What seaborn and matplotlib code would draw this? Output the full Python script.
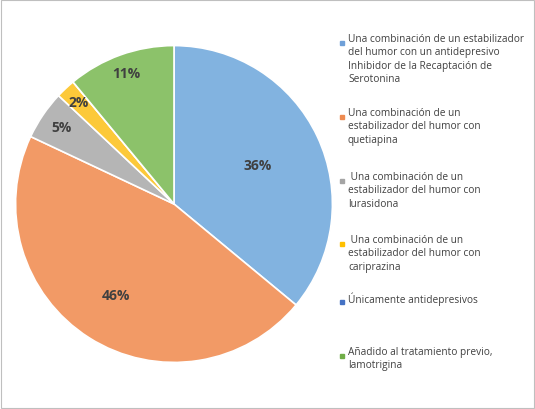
import matplotlib
matplotlib.use("Agg")
import matplotlib.pyplot as plt
import seaborn as sns
import numpy as np
from matplotlib.patches import Rectangle

sns.set_style("white")
plt.rcParams['font.family'] = ['Open Sans', 'DejaVu Sans']

labels = [
    "Una combinación de un estabilizador\ndel humor con un antidepresivo\nInhibidor de la Recaptación de\nSerotonina",
    "Una combinación de un\nestabilizador del humor con\nquetiapina",
    " Una combinación de un\nestabilizador del humor con\nlurasidona",
    " Una combinación de un\nestabilizador del humor con\ncariprazina",
    "Únicamente antidepresivos",
    "Añadido al tratamiento previo,\nlamotrigina",
]
values = [36, 46, 5, 2, 0, 11]
pct_text = ["36%", "46%", "5%", "2%", "", "11%"]
colors = ["#82b3e0", "#f29a66", "#b5b5b5", "#fcc93a", "#4a7ec4", "#8cc26a"]
marker_colors = ["#6fa0d8", "#ee8a50", "#a5a5a5", "#ffc000", "#4472c4", "#70ad47"]

fig = plt.figure(figsize=(5.35, 4.1), dpi=100)
fig.patches.append(Rectangle((0.002, 0.002), 0.996, 0.996, transform=fig.transFigure,
                             fill=False, edgecolor="#bfbfbf", linewidth=0.8))
ax = fig.add_axes([14 / 535, 1 - 365 / 410, 320 / 535, 320 / 410])
wedges, _ = ax.pie(values, colors=colors, startangle=90, counterclock=False,
                   wedgeprops=dict(edgecolor="white", linewidth=1.2))
ax.set_xlim(-1.01, 1.01)
ax.set_ylim(-1.01, 1.01)
ax.set_aspect("equal")

# percentage labels
total = sum(values)
ang = 90.0
radii = [0.58, 0.68, 0.86, 0.88, 0.8, 0.88]
for v, t, r in zip(values, pct_text, radii):
    mid = ang - v / total * 180
    ang -= v / total * 360
    if t:
        ax.text(r * np.cos(np.radians(mid)), r * np.sin(np.radians(mid)), t,
                ha="center", va="center", fontsize=10, fontweight="bold", color="#404040")

# legend
y_pos = [44, 118, 182, 245, 303, 357]
for lab, c, y in zip(labels, marker_colors, y_pos):
    fig.patches.append(Rectangle((340 / 535, 1 - (y + 2) / 410), 4 / 535, 4 / 410,
                                 transform=fig.transFigure, color=c))
    fig.text(348 / 535, 1 - (y - 10) / 410, lab, ha="left", va="top",
             fontsize=7.3, color="#404040", linespacing=1.3)

fig.savefig("out.png", dpi=100)
